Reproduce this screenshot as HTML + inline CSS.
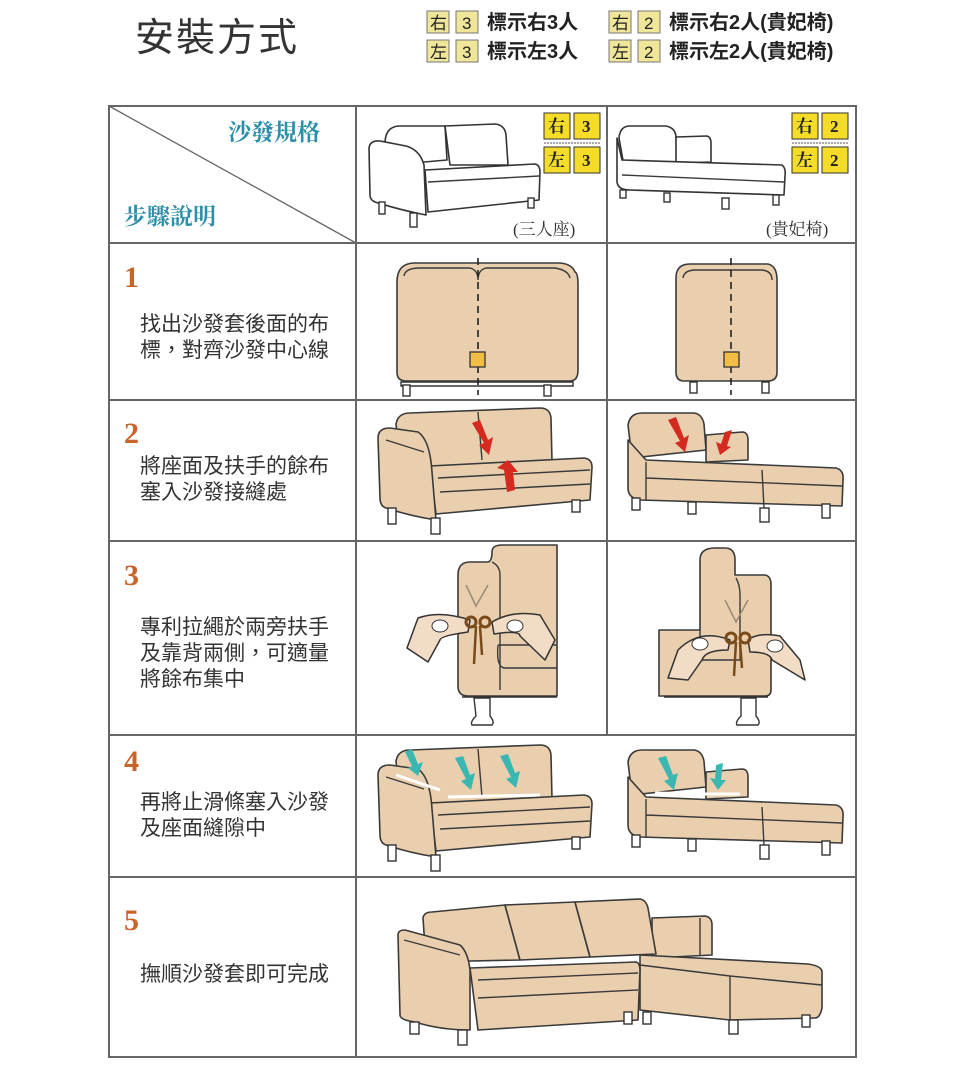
<!DOCTYPE html>
<html><head><meta charset="utf-8"><style>
body{margin:0;background:#fff;width:960px;height:1089px;overflow:hidden;font-family:"Liberation Sans","Noto Sans CJK TC",sans-serif}
svg{position:absolute;left:0;top:0}
</style></head><body>
<svg width="960" height="1089" viewBox="0 0 960 1089" font-family="Liberation Sans, Noto Sans CJK TC, sans-serif">
<defs>
<style>
.f{fill:#e9cfae;stroke:#3a3a3a;stroke-width:1.6;stroke-linejoin:round}
.w{fill:#fff;stroke:#333;stroke-width:1.6;stroke-linejoin:round}
.l{fill:none;stroke:#3a3a3a;stroke-width:1.4}
.lg{fill:#fff;stroke:#333;stroke-width:1.4}
.hd{fill:#f3dcc6;stroke:#333;stroke-width:1.5;stroke-linejoin:round}
.t{font-size:21px;fill:#333}
.n{font-family:"Liberation Serif",serif;font-weight:bold;font-size:30px;fill:#c8642a}
</style>
<g id="love">
<path class="f" d="M396,424 Q398,413 410,413 L540,408 Q550,408 551,418 L552,462 L400,470 Z"/>
<path class="l" d="M478,412 L482,460"/>
<path class="f" d="M430,466 L584,458 Q592,459 592,467 L590,500 L436,514 Z"/>
<path class="l" d="M438,478 L590,470 M440,492 L590,484"/>
<path class="f" d="M378,438 Q378,428 390,428 L418,432 Q430,440 432,472 L436,520 Q410,516 386,508 Q380,506 380,498 Z"/>
<path class="l" d="M386,440 L424,452"/>
<rect class="lg" x="388" y="508" width="8" height="16"/><rect class="lg" x="431" y="518" width="9" height="16"/><rect class="lg" x="572" y="500" width="8" height="12"/>
</g>
<g id="chaise">
<path class="f" d="M628,425 Q630,413 642,413 L694,413 Q702,414 704,424 L706,450 L632,458 Z"/>
<path class="f" d="M706,435 L742,432 Q748,432 748,440 L748,460 L706,462 Z"/>
<path class="f" d="M628,440 L646,460 L836,468 Q844,470 843,480 L842,506 L640,500 Q628,498 628,488 Z"/>
<path class="l" d="M646,462 L646,500 M646,478 L842,486 M762,470 L764,508"/>
<rect class="lg" x="632" y="498" width="8" height="12"/><rect class="lg" x="688" y="502" width="8" height="12"/><rect class="lg" x="760" y="508" width="9" height="14"/><rect class="lg" x="822" y="504" width="8" height="14"/>
</g>
</defs>

<!-- header -->
<text x="135" y="51" font-size="39" fill="#333" letter-spacing="2">安裝方式</text>
<g font-size="17" fill="#222">
<rect x="427" y="11" width="22" height="22" fill="#f0e69a" stroke="#777"/><text x="430" y="29">右</text>
<rect x="456" y="11" width="22" height="22" fill="#f0e69a" stroke="#777"/><text x="462" y="29">3</text>
<rect x="427" y="40" width="22" height="22" fill="#f0e69a" stroke="#777"/><text x="430" y="58">左</text>
<rect x="456" y="40" width="22" height="22" fill="#f0e69a" stroke="#777"/><text x="462" y="58">3</text>
<rect x="609" y="11" width="22" height="22" fill="#f0e69a" stroke="#777"/><text x="612" y="29">右</text>
<rect x="638" y="11" width="22" height="22" fill="#f0e69a" stroke="#777"/><text x="644" y="29">2</text>
<rect x="609" y="40" width="22" height="22" fill="#f0e69a" stroke="#777"/><text x="612" y="58">左</text>
<rect x="638" y="40" width="22" height="22" fill="#f0e69a" stroke="#777"/><text x="644" y="58">2</text>
</g>
<g font-size="20" fill="#222" font-weight="bold">
<text x="487" y="29">標示右3人</text>
<text x="487" y="58">標示左3人</text>
<text x="669" y="29">標示右2人(貴妃椅)</text>
<text x="669" y="58">標示左2人(貴妃椅)</text>
</g>

<!-- table grid -->
<g stroke="#666" stroke-width="2" fill="none">
<rect x="109" y="106" width="747" height="951"/>
<line x1="356" y1="106" x2="356" y2="1057"/>
<line x1="607" y1="106" x2="607" y2="735"/>
<line x1="109" y1="243" x2="856" y2="243"/>
<line x1="109" y1="400" x2="856" y2="400"/>
<line x1="109" y1="541" x2="856" y2="541"/>
<line x1="109" y1="735" x2="856" y2="735"/>
<line x1="109" y1="877" x2="856" y2="877"/>
<line x1="109" y1="106" x2="356" y2="243" stroke-width="1.3"/>
</g>
<text x="228" y="140" font-size="23" fill="#2a8fa8" font-family="Liberation Serif, Noto Serif CJK SC, serif" font-weight="bold">沙發規格</text>
<text x="124" y="224" font-size="23" fill="#2a8fa8" font-family="Liberation Serif, Noto Serif CJK SC, serif" font-weight="bold">步驟說明</text>

<!-- header sofas -->
<g>
<path class="w" d="M385,142 Q386,126 400,126 L445,126 L447,160 L390,165 Z"/>
<path class="w" d="M445,126 L495,124 Q505,125 506,135 L508,165 L450,165 Z"/>
<path class="w" d="M425,170 L535,164 Q540,165 540,172 L539,200 L428,212 Z"/>
<path class="l" d="M428,182 L539,176"/>
<path class="w" d="M369,148 Q370,140 380,141 L406,146 Q420,150 424,165 L426,215 Q400,210 375,202 Q370,200 370,195 Z"/>
<rect class="lg" x="379" y="202" width="6" height="12"/><rect class="lg" x="410" y="213" width="7" height="14"/><rect class="lg" x="528" y="198" width="6" height="10"/>
<text x="513" y="235" font-size="17" fill="#333" font-family="Liberation Serif, Noto Serif CJK TC, serif">(三人座)</text>
</g>
<g>
<path class="w" d="M619,138 Q620,126 630,126 L666,126 Q676,128 676,138 L678,163 L624,166 Z"/>
<path class="w" d="M676,137 L707,136 Q711,137 711,143 L711,162 L676,163 Z"/>
<path class="w" d="M617,138 L622,160 L782,165 Q786,168 785,176 L784,195 L630,190 Q618,190 617,182 Z"/>
<path class="l" d="M622,175 L784,182"/>
<rect class="lg" x="620" y="190" width="6" height="8"/><rect class="lg" x="664" y="193" width="6" height="9"/><rect class="lg" x="722" y="198" width="7" height="11"/><rect class="lg" x="773" y="195" width="6" height="10"/>
<text x="766" y="235" font-size="17" fill="#333" font-family="Liberation Serif, Noto Serif CJK TC, serif">(貴妃椅)</text>
</g>
<!-- badges -->
<g font-family="Liberation Serif, Noto Serif CJK TC, serif" font-size="17" font-weight="bold" fill="#222">
<rect x="544" y="113" width="26" height="26" fill="#f4dc28" stroke="#333"/><text x="548" y="132">右</text>
<rect x="574" y="113" width="26" height="26" fill="#f4dc28" stroke="#333"/><text x="582" y="132">3</text>
<line x1="544" y1="143" x2="600" y2="143" stroke="#555" stroke-dasharray="2,1"/>
<rect x="544" y="147" width="26" height="26" fill="#f4dc28" stroke="#333"/><text x="548" y="166">左</text>
<rect x="574" y="147" width="26" height="26" fill="#f4dc28" stroke="#333"/><text x="582" y="166">3</text>
<rect x="792" y="113" width="26" height="26" fill="#f4dc28" stroke="#333"/><text x="796" y="132">右</text>
<rect x="822" y="113" width="26" height="26" fill="#f4dc28" stroke="#333"/><text x="830" y="132">2</text>
<line x1="792" y1="143" x2="848" y2="143" stroke="#555" stroke-dasharray="2,1"/>
<rect x="792" y="147" width="26" height="26" fill="#f4dc28" stroke="#333"/><text x="796" y="166">左</text>
<rect x="822" y="147" width="26" height="26" fill="#f4dc28" stroke="#333"/><text x="830" y="166">2</text>
</g>

<!-- step numbers and text -->
<text class="n" x="124" y="287">1</text>
<text class="t" x="140" y="331">找出沙發套後面的布</text>
<text class="t" x="140" y="357">標，對齊沙發中心線</text>
<text class="n" x="124" y="443">2</text>
<text class="t" x="140" y="473">將座面及扶手的餘布</text>
<text class="t" x="140" y="499">塞入沙發接縫處</text>
<text class="n" x="124" y="585">3</text>
<text class="t" x="140" y="634">專利拉繩於兩旁扶手</text>
<text class="t" x="140" y="660">及靠背兩側，可適量</text>
<text class="t" x="140" y="686">將餘布集中</text>
<text class="n" x="124" y="771">4</text>
<text class="t" x="140" y="809">再將止滑條塞入沙發</text>
<text class="t" x="140" y="835">及座面縫隙中</text>
<text class="n" x="124" y="930">5</text>
<text class="t" x="140" y="981">撫順沙發套即可完成</text>

<!-- step 1 -->
<path class="f" d="M397,282 Q397,263 415,263 L560,263 Q572,264 575,272 Q578,273 578,285 L578,370 Q578,381 570,381 L406,381 Q397,381 397,372 Z"/>
<path class="l" d="M404,276 Q405,268 420,268 L470,268 Q478,270 478,280 Q478,270 486,268 L555,268 Q568,270 570,278"/>
<path class="lg" d="M401,382 L573,382 L573,386 L401,386 Z"/>
<rect class="lg" x="403" y="385" width="7" height="11"/><rect class="lg" x="544" y="385" width="7" height="11"/>
<line x1="478" y1="258" x2="478" y2="395" stroke="#222" stroke-width="1.6" stroke-dasharray="7,5"/>
<rect x="470" y="352" width="15" height="15" fill="#f2bd45" stroke="#333" stroke-width="1.3"/>

<path class="f" d="M676,278 Q676,264 690,264 L768,264 Q777,266 777,280 L777,372 Q777,381 768,381 L684,381 Q676,381 676,372 Z"/>
<path class="l" d="M683,278 Q684,270 696,270 L762,270 Q772,271 772,280"/>
<rect class="lg" x="690" y="382" width="7" height="11"/><rect class="lg" x="762" y="382" width="7" height="11"/>
<line x1="731" y1="258" x2="731" y2="395" stroke="#222" stroke-width="1.6" stroke-dasharray="7,5"/>
<rect x="724" y="352" width="15" height="15" fill="#f2bd45" stroke="#333" stroke-width="1.3"/>

<!-- step 2 -->
<use href="#love"/>
<use href="#chaise"/>
<g fill="#d42a20">
<path d="M472,423 L480,420 L488,440 L493,437 L489,455 L479,445 L484,443 Z"/>
<path d="M507,492 L515,490 L513,472 L518,472 L508,460 L497,468 L504,470 Z"/>
<path d="M668,420 L676,417 L684,438 L689,435 L685,452 L675,443 L680,441 Z"/>
<path d="M725,432 L732,430 L727,446 L731,447 L720,455 L716,442 L721,444 Z"/>
</g>

<!-- step 3 left -->
<path class="f" d="M458,575 Q458,562 470,562 L488,562 Q492,561 492,552 Q492,545 502,545 L557,545 L557,696 L468,696 Q458,696 458,686 Z"/>
<path class="l" d="M492,562 Q500,566 500,575 L500,690 M498,645 L557,645 M498,645 Q496,668 505,668 L557,668"/>
<line x1="462" y1="697" x2="557" y2="697" stroke="#333" stroke-width="1.4"/>
<path class="lg" d="M474,698 L490,698 L490,716 Q495,722 492,725 L472,725 Q470,722 476,716 Z"/>
<path class="hd" d="M407,648 L418,618 Q440,610 470,620 L468,632 Q440,636 440,640 L428,662 Z"/>
<path class="hd" d="M545,660 L555,640 L540,615 Q512,610 492,622 L494,634 Q520,630 520,636 Z"/>
<ellipse cx="440" cy="626" rx="8" ry="6" fill="#fff" stroke="#333"/>
<ellipse cx="515" cy="626" rx="8" ry="6" fill="#fff" stroke="#333"/>
<circle cx="471" cy="622" r="5" fill="none" stroke="#7a4a1a" stroke-width="3"/>
<circle cx="485" cy="622" r="5" fill="none" stroke="#7a4a1a" stroke-width="3"/>
<path d="M476,626 L474,664 M480,626 L482,655" stroke="#7a4a1a" stroke-width="2.5" fill="none"/>
<path d="M466,585 L476,606 L488,585" stroke="#9a8a78" stroke-width="1.5" fill="none"/>

<!-- step 3 right -->
<path class="f" d="M700,560 Q700,548 715,548 L725,548 Q735,548 735,560 L735,575 L765,575 Q771,576 771,585 L771,690 Q771,696 765,696 L659,696 L659,630 L700,630 Z"/>
<path class="l" d="M736,578 Q740,585 740,595 L740,660 L700,660 L700,630"/>
<line x1="664" y1="697" x2="768" y2="697" stroke="#333" stroke-width="1.4"/>
<path class="lg" d="M741,698 L756,698 L756,716 Q761,722 758,725 L737,725 Q735,722 741,716 Z"/>
<path class="hd" d="M668,678 L678,650 Q700,628 730,640 L728,650 Q705,650 702,660 L688,680 Z"/>
<path class="hd" d="M805,680 L800,660 L780,636 Q758,632 748,640 L750,652 Q770,652 772,660 Z"/>
<ellipse cx="700" cy="644" rx="8" ry="6" fill="#fff" stroke="#333"/>
<ellipse cx="775" cy="646" rx="8" ry="6" fill="#fff" stroke="#333"/>
<circle cx="731" cy="638" r="5" fill="none" stroke="#7a4a1a" stroke-width="3"/>
<circle cx="745" cy="638" r="5" fill="none" stroke="#7a4a1a" stroke-width="3"/>
<path d="M736,642 L734,676 M740,642 L742,668" stroke="#7a4a1a" stroke-width="2.5" fill="none"/>
<path d="M725,600 L736,622 L748,600" stroke="#9a8a78" stroke-width="1.5" fill="none"/>

<!-- step 4 -->
<use href="#love" transform="translate(0,337)"/>
<use href="#chaise" transform="translate(0,337)"/>
<g fill="#3bb7b2">
<path d="M405,752 L412,749 L418,764 L423,762 L418,776 L408,768 L412,766 Z"/>
<path d="M455,758 L463,756 L470,775 L475,773 L471,790 L461,781 L466,779 Z"/>
<path d="M500,756 L508,754 L515,773 L520,771 L516,788 L506,779 L511,777 Z"/>
<path d="M658,758 L666,756 L673,775 L678,773 L674,790 L664,781 L669,779 Z"/>
<path d="M716,765 L723,763 L721,780 L726,780 L718,790 L710,778 L715,779 Z"/>
</g>
<g stroke="#fff" stroke-width="3"><line x1="396" y1="775" x2="440" y2="790"/><line x1="448" y1="797" x2="540" y2="795"/><line x1="655" y1="793" x2="700" y2="794"/><line x1="705" y1="794" x2="740" y2="794"/></g>

<!-- step 5 -->
<path class="f" d="M652,918 L705,916 Q712,917 712,925 L712,955 L652,958 Z"/>
<path class="l" d="M700,918 L700,955"/>
<path class="f" d="M423,918 Q424,912 432,912 L505,905 L520,960 L426,962 Z"/>
<path class="f" d="M505,905 L575,902 L590,957 L520,960 Z"/>
<path class="f" d="M575,902 L640,899 Q646,900 648,908 L656,954 L590,957 Z"/>
<path class="f" d="M640,955 L808,964 Q822,966 822,972 L822,1008 Q820,1018 815,1018 L730,1020 L640,1010 Z"/>
<path class="l" d="M640,965 L730,976 L822,985 M730,976 L730,1020"/>
<path class="f" d="M470,968 L636,962 Q640,963 640,970 L638,1020 L478,1030 Z"/>
<path class="l" d="M478,980 L638,973 M478,998 L638,990"/>
<path class="f" d="M398,935 Q398,930 405,930 L460,945 Q468,952 470,970 L470,1030 Q440,1030 415,1022 Q400,1020 400,1015 Z"/>
<path class="l" d="M404,940 L460,955"/>
<rect class="lg" x="410" y="1022" width="9" height="12"/><rect class="lg" x="458" y="1030" width="9" height="15"/><rect class="lg" x="624" y="1012" width="8" height="12"/><rect class="lg" x="643" y="1012" width="8" height="12"/><rect class="lg" x="729" y="1020" width="9" height="14"/><rect class="lg" x="802" y="1015" width="8" height="12"/>
</svg>
</body></html>
